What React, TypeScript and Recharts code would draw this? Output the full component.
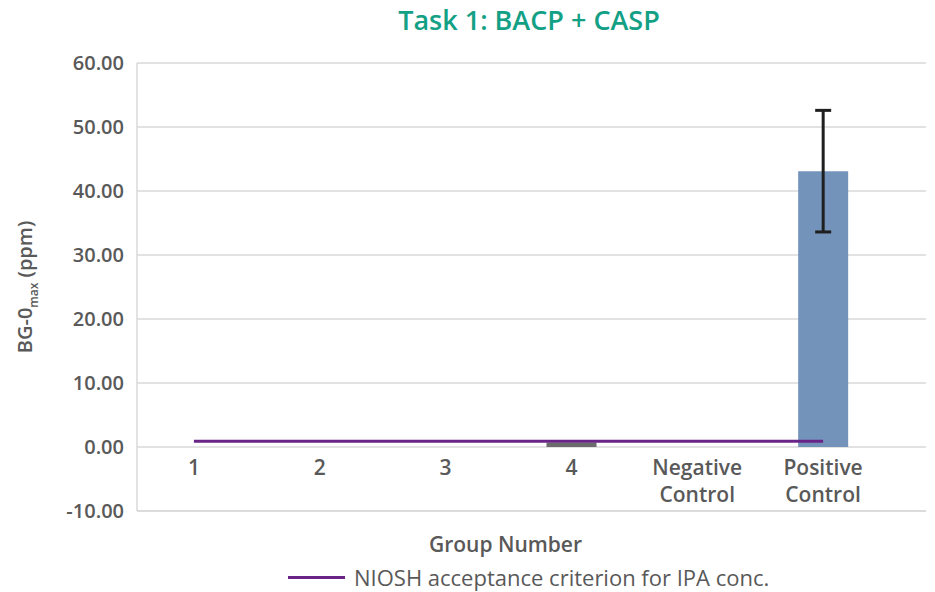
import React from 'react';
import {
  ComposedChart,
  Bar,
  Line,
  XAxis,
  YAxis,
  CartesianGrid,
  ErrorBar,
  Cell,
} from 'recharts';

const categories = ['1', '2', '3', '4', 'Negative Control', 'Positive Control'];
const bgMax = [0, 0, 0, 0.7, 0, 43.1];
const bgErr = [null, null, null, null, null, 9.5];
const nioshLimit = [0.9, 0.9, 0.9, 0.9, 0.9, 0.9];
const yTicks = [-10, 0, 10, 20, 30, 40, 50, 60];

const BLUE = '#7393bb';
const GREY = '#6b6b6b';
const PURPLE = '#6a2387';
const TEXT = '#595959';
const FONT = '"Open Sans", "Noto Sans", sans-serif';

const barColors = [BLUE, BLUE, BLUE, GREY, BLUE, BLUE];

const chartData = categories.map((name, i) => ({
  name,
  value: bgMax[i],
  err: bgErr[i],
  niosh: nioshLimit[i],
}));

const CategoryTick = ({ x, y, payload }: any) => {
  const lines = String(payload.value).split(' ');
  return (
    <text x={x} y={y - 36} textAnchor="middle" fill={TEXT} fontSize={21} fontWeight={600} fontFamily={FONT}>
      {lines.map((l, i) => (
        <tspan key={i} x={x} dy={i === 0 ? 0 : 27}>
          {l}
        </tspan>
      ))}
    </text>
  );
};

const YLabel = () => (
  <text
    transform="translate(32, 287) rotate(-90)"
    textAnchor="middle"
    fill={TEXT}
    fontSize={20}
    fontWeight={600}
    fontFamily={FONT}
  >
    BG-0
    <tspan fontSize={12} dy={6}>max</tspan>
    <tspan dy={-6}> (ppm)</tspan>
  </text>
);

const XLabel = ({ viewBox }: any) => (
  <text
    x={viewBox.x + viewBox.width / 2 - 26}
    y={552}
    textAnchor="middle"
    fill={TEXT}
    fontSize={21}
    fontWeight={600}
    fontFamily={FONT}
  >
    Group Number
  </text>
);

export default function App() {
  return (
    <div style={{ position: 'absolute', left: 0, top: 0, width: 935, height: 592, background: '#fff' }}>
      <div
        style={{
          position: 'absolute',
          top: 1,
          left: 0,
          width: 1058,
          textAlign: 'center',
          fontFamily: FONT,
          fontWeight: 600,
          fontSize: 27,
          color: '#14a085',
        }}
      >
        Task 1: BACP + CASP
      </div>
      <ComposedChart
        width={935}
        height={592}
        data={chartData}
        margin={{ top: 63, right: 9, bottom: 36, left: 0 }}
      >
        <CartesianGrid vertical={false} stroke="#d9d9d9" strokeWidth={1.5} />
        <XAxis
          dataKey="name"
          tickLine={false}
          axisLine={{ stroke: '#d9d9d9', strokeWidth: 1.5 }}
          tickSize={0}
          tickMargin={0}
          padding={{ left: -6, right: 40 }}
          tick={<CategoryTick />}
          interval={0}
          height={45}
          label={<XLabel />}
        />
        <YAxis
          width={137}
          domain={[-10, 60]}
          ticks={yTicks}
          tickFormatter={(v: number) => v.toFixed(2)}
          tickLine={false}
          tickSize={0}
          tickMargin={13}
          axisLine={{ stroke: '#d9d9d9', strokeWidth: 1.5 }}
          tick={{ fill: TEXT, fontSize: 20, fontWeight: 600, fontFamily: FONT }}
          label={<YLabel />}
        />
        <Bar dataKey="value" barSize={50} isAnimationActive={false} legendType="none">
          {chartData.map((entry, i) => (
            <Cell key={`cell-${i}`} fill={barColors[i]} />
          ))}
          <ErrorBar dataKey="err" direction="y" width={8} strokeWidth={3} stroke="#1f1f1f" />
        </Bar>
        <Line
          dataKey="niosh"
          type="linear"
          stroke={PURPLE}
          strokeWidth={3}
          dot={false}
          activeDot={false}
          isAnimationActive={false}
        />
      </ComposedChart>
      <div
        style={{
          position: 'absolute',
          top: 562,
          left: 0,
          display: 'flex',
          alignItems: 'center',
          fontFamily: FONT,
          fontSize: 22,
          color: TEXT,
        }}
      >
        <div style={{ width: 57, height: 3, background: PURPLE, marginLeft: 288, marginRight: 9 }} />
        <span>NIOSH acceptance criterion for IPA conc.</span>
      </div>
    </div>
  );
}
